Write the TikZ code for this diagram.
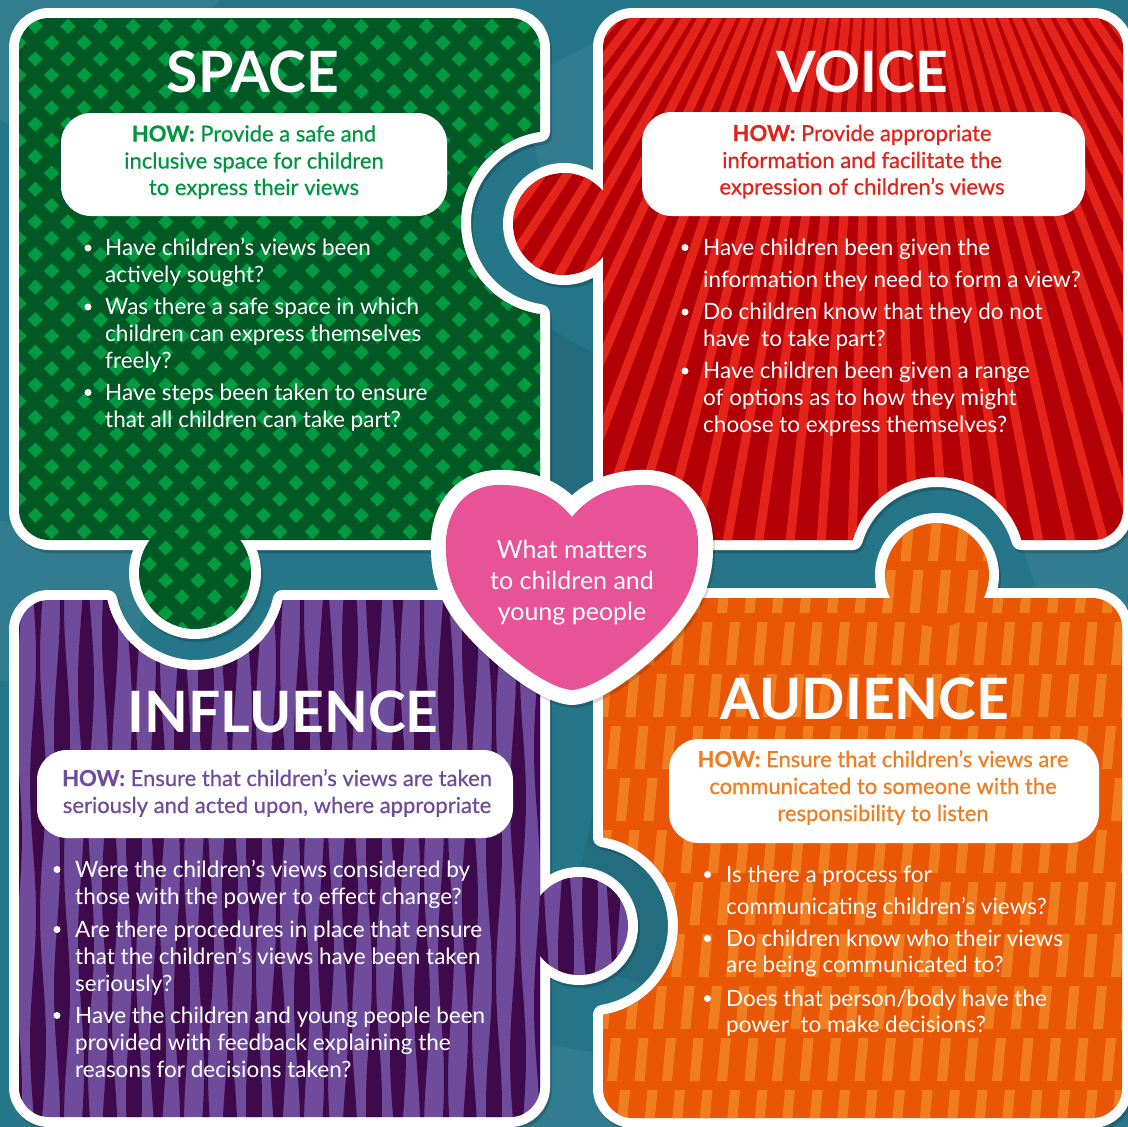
\documentclass[tikz,border=0pt]{standalone}
\usepackage{fontspec}
\setmainfont{Lato}
\newfontfamily\howfont{Lato}[FakeBold=0.6]
\definecolor{bgteal}{RGB}{38,118,137}
\definecolor{gdark}{RGB}{0,88,36}
\definecolor{glight}{RGB}{0,155,65}
\definecolor{gtext}{RGB}{0,150,64}
\definecolor{rdark}{RGB}{178,0,6}
\definecolor{rlight}{RGB}{228,36,26}
\definecolor{rtext}{RGB}{226,35,26}
\definecolor{plight}{RGB}{111,76,155}
\definecolor{pdark}{RGB}{62,10,76}
\definecolor{ptext}{RGB}{111,76,155}
\definecolor{obase}{RGB}{232,86,6}
\definecolor{olight}{RGB}{240,126,32}
\definecolor{otext}{RGB}{239,125,34}
\definecolor{heartpink}{RGB}{232,82,150}
% piece outlines (px, y downwards)
\def\greenbody{(49,18) -- (510,18) arc[start angle=270,end angle=360,radius=30] -- (540,131.9) arc[start angle=261.88,end angle=98.12,radius=92] -- (540,510) arc[start angle=0,end angle=90,radius=30] -- (49,540) arc[start angle=90,end angle=180,radius=30] -- (19,48) arc[start angle=180,end angle=270,radius=30] -- cycle}
\def\greentab{(195,573) circle[radius=56]}
\def\redbody{(633,18) -- (1093,18) arc[start angle=270,end angle=360,radius=30] -- (1123,510) arc[start angle=0,end angle=90,radius=30] -- (1021.4,540) arc[start angle=343.5,end angle=196.5,radius=88] -- (633,540) arc[start angle=90,end angle=180,radius=30] -- (603,48) arc[start angle=180,end angle=270,radius=30] -- cycle}
\def\redtab{(564,224) circle[radius=51]}
\def\purplebody{(49,600) -- (107.25,600) arc[start angle=167.16,end angle=12.84,radius=90] -- (510,600) arc[start angle=270,end angle=360,radius=30] -- (540,1087) arc[start angle=0,end angle=90,radius=30] -- (49,1117) arc[start angle=90,end angle=180,radius=30] -- (19,630) arc[start angle=180,end angle=270,radius=30] -- cycle}
\def\purpletab{(579,926) circle[radius=49]}
\def\orangebody{(633,598) -- (1092,598) arc[start angle=270,end angle=360,radius=30] -- (1122,1088) arc[start angle=0,end angle=90,radius=30] -- (633,1118) arc[start angle=90,end angle=180,radius=30] -- (603,1014.74) arc[start angle=80.41,end angle=-80.41,radius=90] -- (603,628) arc[start angle=180,end angle=270,radius=30] -- cycle}
\def\orangetab{(937,575) circle[radius=52]}
\def\heartpath{(572,517) .. controls (592,492) and (620,484) .. (648,485) .. controls (682,487) and (700,515) .. (698,550) .. controls (698,595) and (670,625) .. (635,655) .. controls (605,680) and (585,689) .. (572,690) .. controls (559,689) and (539,680) .. (509,655) .. controls (474,625) and (446,595) .. (446,550) .. controls (444,515) and (462,487) .. (496,485) .. controls (524,484) and (552,492) .. (572,517) -- cycle}
% patterns
\newcommand\greenpat[2]{%
  \fill[gdark] (0,0) rectangle (600,680);
  \foreach \r in {#1,...,#2} {\foreach \c in {0,...,17} {
    \fill[glight] ({19+32.6*\c+16.3*mod(\r,2)},{10+16.3*\r}) +(-7.6,0) -- +(0,-7.6) -- +(7.6,0) -- +(0,7.6) -- cycle;}}}
\newcommand\redpat{%
  \fill[rdark] (480,0) rectangle (1128,560);
  \foreach \a in {10,12.1,...,170} {\draw[rlight, line width=9pt] (880,-300) -- ++(\a:1200);}}
\newcommand\purplepat{%
  \fill[plight] (0,580) rectangle (650,1127);
  \foreach \i in {0,...,26} {\pgfmathsetmacro\xc{14+24*\i}
    \fill[pdark] plot[domain=580:1127,samples=45] ({\xc-(10+6*sin(1.4*\x+71*\i))/2},\x) -- plot[domain=580:1127,samples=45] ({\xc+(10+6*sin(1.4*(1707-\x)+71*\i))/2},{1707-\x}) -- cycle;}}
\newcommand\orangepat[2]{%
  \fill[obase] (590,500) rectangle (1128,1127);
  \foreach \r in {#1,...,#2} {\foreach \c in {0,...,20} {
    \fill[olight] ({598+27.5*\c+9*mod(\r,3)},{561+52*\r}) -- ++(10,0) -- ++(4,-43) -- ++(-10,0) -- cycle;}}}
\tikzset{
  outline/.style={draw=white, line width=20pt, line join=round},
  shadowline/.style={draw=black, opacity=.18, line width=20pt, line join=round},
  titletext/.style={text=white, font=\fontsize{57}{60}\selectfont\bfseries, anchor=base, inner sep=0pt},
  howtext/.style={font=\fontsize{22}{27}\selectfont\howfont, anchor=base, inner sep=0pt},
  itemtext/.style={text=white, font=\fontsize{22.5}{27}\selectfont, anchor=base west, inner sep=0pt},
  bulletdot/.style={circle, fill=white, inner sep=0pt, minimum size=7pt},
  howbox/.style={fill=white, rounded corners=30pt},
  hearttext/.style={text=white, font=\fontsize{25}{31}\selectfont, anchor=base, inner sep=0pt}
}
\begin{document}
\begin{tikzpicture}[x=1pt,y=-1pt]
\useasboundingbox (0,0) rectangle (1128,1127);
% background
\fill[bgteal] (0,0) rectangle (1128,1127);
\fill[white, opacity=.06] (0,0) -- (220,0) -- (90,160) -- (0,120) -- cycle;
\fill[white, opacity=.05] (520,80) -- (640,20) -- (700,160) -- (560,260) -- cycle;
\fill[black, opacity=.08] (500,300) -- (640,380) -- (600,520) -- (470,460) -- cycle;
\fill[white, opacity=.05] (0,520) -- (160,560) -- (120,700) -- (0,680) -- cycle;
\fill[black, opacity=.07] (600,780) -- (720,820) -- (700,1000) -- (560,960) -- cycle;
\fill[white, opacity=.05] (1000,480) -- (1128,500) -- (1128,640) -- (1040,600) -- cycle;
\fill[white, opacity=.05] (520,1040) -- (640,1060) -- (620,1127) -- (500,1127) -- cycle;
% soft shadows
\begin{scope}[shift={(2,3)}]
\draw[shadowline] \greenbody; \draw[shadowline] \greentab;
\draw[shadowline] \redbody; \draw[shadowline] \redtab;
\draw[shadowline] \purplebody; \draw[shadowline] \purpletab;
\draw[shadowline] \orangebody; \draw[shadowline] \orangetab;
\end{scope}
% white outlines
\draw[outline] \greenbody; \draw[outline] \greentab;
\draw[outline] \redbody; \draw[outline] \redtab;
\draw[outline] \purplebody; \draw[outline] \purpletab;
\draw[outline] \orangebody; \draw[outline] \orangetab;
% green piece
\begin{scope} \clip \greenbody; \greenpat{0}{34} \end{scope}
\begin{scope} \clip \greentab; \greenpat{30}{40} \end{scope}
% red piece
\begin{scope} \clip \redbody; \redpat \end{scope}
\begin{scope} \clip \redtab; \redpat \end{scope}
% purple piece
\begin{scope} \clip \purplebody; \purplepat \end{scope}
\begin{scope} \clip \purpletab; \purplepat \end{scope}
% orange piece
\begin{scope} \clip \orangebody; \orangepat{0}{11} \end{scope}
\begin{scope} \clip \orangetab; \orangepat{-1}{1} \end{scope}
% ---------- SPACE ----------
\node[titletext] (tspace) at (253,92) {SPACE};
\fill[howbox] (61,113) rectangle (447,216);
\node[howtext, text=gtext] (gh1) at (254,141.5) {{\bfseries HOW:} Provide a safe and};
\node[howtext, text=gtext] (gh2) at (254,168.5) {inclusive space for children};
\node[howtext, text=gtext] (gh3) at (254,195) {to express their views};
\node[bulletdot] (gd1) at (88,248) {};
\node[bulletdot] (gd2) at (88,307) {};
\node[bulletdot] (gd3) at (88,392.5) {};
\node[itemtext] (gb1) at (105,255.5) {Have children’s views been};
\node[itemtext] (gb2) at (105,282.5) {actively sought?};
\node[itemtext] (gb3) at (105,314.5) {Was there a safe space in which};
\node[itemtext] (gb4) at (105,341.5) {children can express themselves};
\node[itemtext] (gb5) at (105,368.5) {freely?};
\node[itemtext] (gb6) at (105,400) {Have steps been taken to ensure};
\node[itemtext] (gb7) at (105,427) {that all children can take part?};
% ---------- VOICE ----------
\node[titletext] (tvoice) at (862,92) {VOICE};
\fill[howbox] (642,112) rectangle (1085,216);
\node[howtext, text=rtext] (rh1) at (862,141) {{\bfseries HOW:} Provide appropriate};
\node[howtext, text=rtext] (rh2) at (862,168) {information and facilitate the};
\node[howtext, text=rtext] (rh3) at (862,194.5) {expression of children’s views};
\node[bulletdot] (rd1) at (685,247.5) {};
\node[bulletdot] (rd2) at (685,312) {};
\node[bulletdot] (rd3) at (685,371) {};
\node[itemtext] (rb1) at (703,255) {Have children been given the};
\node[itemtext] (rb2) at (703,287.5) {information they need to form a view?};
\node[itemtext] (rb3) at (703,319.5) {Do children know that they do not};
\node[itemtext] (rb4) at (703,346.5) {have\ \ to take part?};
\node[itemtext] (rb5) at (703,378.5) {Have children been given a range};
\node[itemtext] (rb6) at (703,405) {of options as to how they might};
\node[itemtext] (rb7) at (703,432) {choose to express themselves?};
% ---------- INFLUENCE ----------
\node[titletext] (tinfl) at (283,732) {INFLUENCE};
\fill[howbox] (37,750) rectangle (513,838);
\node[howtext, text=ptext] (ph1) at (277,786) {{\bfseries HOW:} Ensure that children’s views are taken};
\node[howtext, text=ptext] (ph2) at (277,813) {seriously and acted upon, where appropriate};
\node[bulletdot] (pd1) at (57,869.5) {};
\node[bulletdot] (pd2) at (57,929.5) {};
\node[bulletdot] (pd3) at (57,1015.5) {};
\node[itemtext] (pb1) at (75,877) {Were the children’s views considered by};
\node[itemtext] (pb2) at (75,904) {those with the power to effect change?};
\node[itemtext] (pb3) at (75,937) {Are there procedures in place that ensure};
\node[itemtext] (pb4) at (75,964) {that the children’s views have been taken};
\node[itemtext] (pb5) at (75,991) {seriously?};
\node[itemtext] (pb6) at (75,1023) {Have the children and young people been};
\node[itemtext] (pb7) at (75,1050) {provided with feedback explaining the};
\node[itemtext] (pb8) at (75,1077) {reasons for decisions taken?};
% ---------- AUDIENCE ----------
\node[titletext] (taud) at (865,719) {AUDIENCE};
\fill[howbox] (669,739) rectangle (1099,843);
\node[howtext, text=otext] (oh1) at (883,767) {{\bfseries HOW:} Ensure that children’s views are};
\node[howtext, text=otext] (oh2) at (883,794) {communicated to someone with the};
\node[howtext, text=otext] (oh3) at (883,821) {responsibility to listen};
\node[bulletdot] (od1) at (707.5,874.5) {};
\node[bulletdot] (od2) at (707.5,938.5) {};
\node[bulletdot] (od3) at (707.5,998.5) {};
\node[itemtext] (ob1) at (726,882) {Is there a process for};
\node[itemtext] (ob2) at (726,914) {communicating children’s views?};
\node[itemtext] (ob3) at (726,946) {Do children know who their views};
\node[itemtext] (ob4) at (726,972) {are being communicated to?};
\node[itemtext] (ob5) at (726,1006) {Does that person/body have the};
\node[itemtext] (ob6) at (726,1032) {power\ \ to make decisions?};
% ---------- heart ----------
\draw[black, opacity=.15, line width=30pt, line join=round, shift={(2,3)}] \heartpath;
\draw[white, line width=30pt, line join=round] \heartpath;
\fill[heartpink] \heartpath;
\node[hearttext] (hh1) at (572,558) {What matters};
\node[hearttext] (hh2) at (572,589) {to children and};
\node[hearttext] (hh3) at (572,620) {young people};
\end{tikzpicture}
\end{document}
